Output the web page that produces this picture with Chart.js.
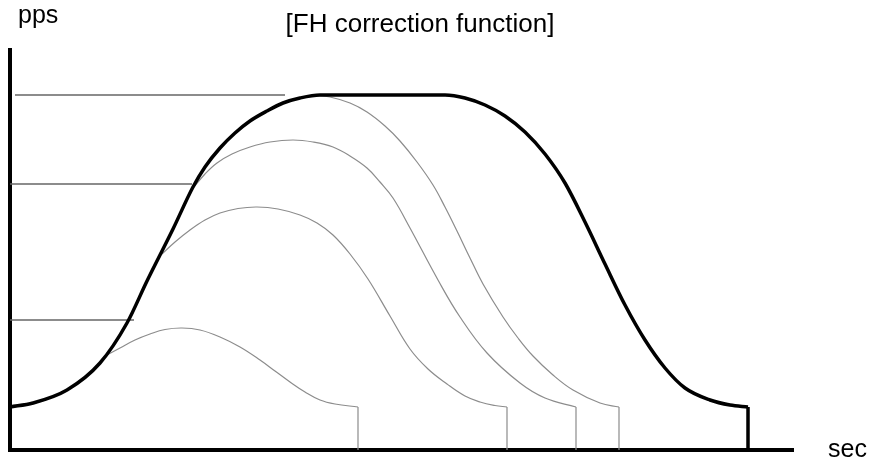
<!DOCTYPE html>
<html>
<head>
<meta charset="utf-8">
<title>FH correction function</title>
<script src="https://cdn.jsdelivr.net/npm/chart.js@4.4.1/dist/chart.umd.min.js"></script>
<style>
	body { margin: 0; background: #fff; }
	canvas { display: block; }
</style>
</head>
<body>
<canvas id="myChart1" width="873" height="461"></canvas>
<script>
// main speed curve (sec, pps) - thick black
var mainX = [0, 23, 57, 90, 117, 137, 163, 183, 195, 210, 225, 240, 257, 273, 290, 310, 435, 455, 475, 495, 515, 535, 555, 575, 595, 615, 635, 655, 675, 700, 720, 738];
var mainY = [43, 47, 60, 87, 127, 169, 221, 263, 283, 302, 317, 329, 339, 347, 352, 355, 355, 352, 345, 334, 318, 296, 267, 228, 186, 145, 110, 82, 62, 50, 45, 43];

// corrected curves - thin gray
var fh1X = [95, 110, 125, 140, 155, 172, 190, 210, 230, 250, 265, 280, 295, 310, 325, 348];
var fh1Y = [94, 102, 110, 116, 120.5, 122, 120, 113, 103, 90, 79, 68, 58, 50, 46, 43];
var fh2X = [152, 165, 180, 195, 210, 228, 247, 268, 290, 307, 323, 340, 358, 380, 400, 418, 437, 455, 470, 485, 497];
var fh2Y = [196, 208, 220, 230, 237, 241.5, 243, 241, 235, 227, 215, 196, 171, 134, 101, 81, 66, 54, 48, 44.5, 43];
var fh3X = [183, 195, 207, 222, 240, 260, 283, 303, 323, 340, 357, 370, 383, 400, 428, 450, 477, 510, 535, 566];
var fh3Y = [262, 276, 287, 296, 303, 308, 310, 308, 303, 294, 282, 268, 252, 222, 170, 133, 97, 67, 52, 43];
var fh4X = [303, 320, 340, 357, 375, 390, 407, 423, 435, 447, 460, 473, 493, 508, 523, 543, 563, 590, 609];
var fh4Y = [355, 353, 347, 338, 324, 309, 288, 265, 243, 219, 192, 166, 133, 112, 94, 75, 60, 47, 43];

// stop levels (pps) and where the reference lines end
var levelY = [355, 266, 130];
var levelStart = [5, 0, 0];
var levelEnd = [275, 182, 124];

var xMax = 783;
var yMax = 400;

function pts(xs, ys) {
	var out = [];
	for (var i = 0; i < xs.length; i++) {
		out.push({x: xs[i], y: ys[i]});
	}
	return out;
}

function curve(xs, ys, color, width, order, mode) {
	return {
		data: pts(xs, ys),
		borderColor: color,
		borderWidth: width,
		pointRadius: 0,
		tension: 0.4,
		cubicInterpolationMode: mode,
		fill: false,
		order: order
	};
}

// straight piece, drop to the time axis or level line
function seg(x1, y1, x2, y2, color, width, order) {
	return {
		data: [{x: x1, y: y1}, {x: x2, y: y2}],
		borderColor: color,
		borderWidth: width,
		pointRadius: 0,
		tension: 0,
		fill: false,
		order: order
	};
}

// labels drawn on the canvas
var textPlugin = {
	id: 'texts',
	afterDraw: function(chart) {
		var ctx = chart.ctx;
		ctx.save();
		ctx.fillStyle = '#000';
		ctx.textBaseline = 'alphabetic';
		ctx.font = '26px "Liberation Sans", Arial, sans-serif';
		ctx.textAlign = 'center';
		ctx.fillText('[FH correction function]', 420, 32);
		ctx.font = '25px "Liberation Sans", Arial, sans-serif';
		ctx.textAlign = 'left';
		ctx.fillText('pps', 18, 23);
		ctx.fillText('sec', 828, 457);
		ctx.restore();
	}
};

window.onload = function() {
	var gray = '#8c8c8c';
	var sets = [];
	sets.push(curve(mainX, mainY, '#000', 3.5, 0, 'monotone'));
	sets.push(seg(mainX[mainX.length - 1], mainY[mainY.length - 1], mainX[mainX.length - 1], 0, '#000', 3.5, 0));

	var fx = [fh1X, fh2X, fh3X, fh4X];
	var fy = [fh1Y, fh2Y, fh3Y, fh4Y];
	for (var i = 0; i < fx.length; i++) {
		var n = fx[i].length - 1;
		sets.push(curve(fx[i], fy[i], gray, 1.2, 2, 'default'));
		sets.push(seg(fx[i][n], fy[i][n], fx[i][n], 0, gray, 1.2, 2));
	}
	for (var j = 0; j < levelY.length; j++) {
		sets.push(seg(levelStart[j], levelY[j], levelEnd[j], levelY[j], '#666', 1.5, 1));
	}

	var ctx = document.getElementById("myChart1").getContext("2d");
	window.myLine = new Chart(ctx, {
		type: 'line',
		data: { datasets: sets },
		plugins: [textPlugin],
		options: {
			responsive: false,
			animation: false,
			layout: {
				padding: { left: 10, right: 80, top: 50, bottom: 11 }
			},
			plugins: {
				legend: { display: false },
				tooltip: { enabled: false },
				title: { display: false }
			},
			scales: {
				x: {
					type: 'linear',
					min: 0,
					max: xMax,
					grid: { display: false },
					ticks: { display: false },
					border: { display: true, color: '#000', width: 4 },
					afterFit: function(s) { s.height = 0; }
				},
				y: {
					type: 'linear',
					min: 0,
					max: yMax,
					grid: { display: false },
					ticks: { display: false },
					border: { display: true, color: '#000', width: 4 },
					afterFit: function(s) { s.width = 0; }
				}
			}
		}
	});
};
</script>
</body>
</html>
